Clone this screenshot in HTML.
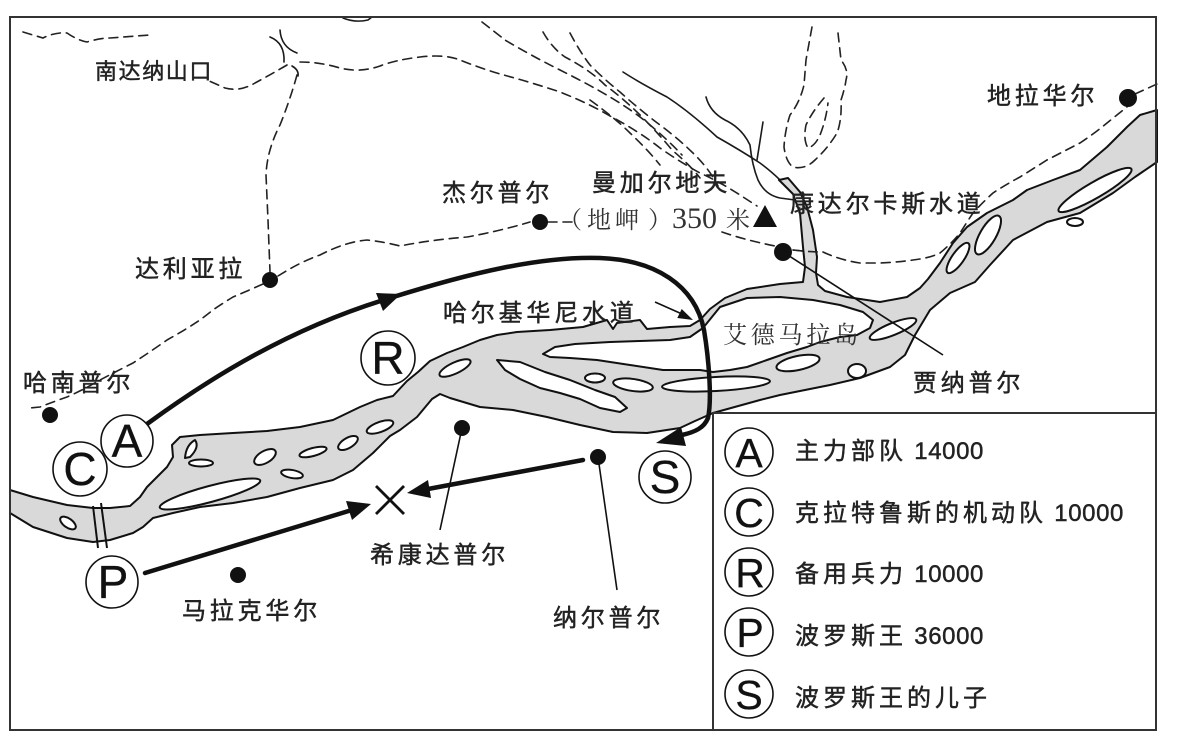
<!DOCTYPE html>
<html>
<head>
<meta charset="utf-8">
<style>
html,body{margin:0;padding:0;background:#fff;}
svg{display:block;}
.s{font-family:"Liberation Sans","Noto Sans CJK SC",sans-serif;fill:#222;stroke:#222;stroke-width:0.45;}
.sf{font-family:"Liberation Serif","Noto Serif CJK SC",serif;fill:#333;}
</style>
</head>
<body>
<svg width="1178" height="737" viewBox="0 0 1178 737" xmlns="http://www.w3.org/2000/svg">
<rect width="1178" height="737" fill="#fff"/>

<!-- dashed roads / ridges -->
<g fill="none" stroke="#222" stroke-width="1.6" stroke-dasharray="9 6" stroke-linecap="round">
  <path d="M23,32 Q33,35 43,38 Q55,32 67,33 Q77,40 87,42 Q100,38 110,38 L150,35"/>
  <path d="M287,65 Q270,75 255,83 Q240,92 225,88 L207,80"/>
  <path d="M300,62 Q320,62 340,68 Q360,73 380,66 Q395,60 420,57 Q445,54 460,60 Q480,68 500,74 Q530,82 560,92 Q590,104 610,116 Q640,132 660,148 Q680,162 700,173 Q720,182 740,195 L757,206"/>
  <path d="M482,22 Q495,32 505,40 Q530,55 560,70 Q590,85 610,97 Q635,112 650,125 Q668,140 682,155"/>
  <path d="M543,32 Q552,48 565,57 Q590,70 605,85 Q625,100 640,115 Q660,135 672,150 Q690,165 700,178"/>
  <path d="M570,33 Q580,52 590,65 Q605,80 620,92 Q640,110 660,125 Q680,140 695,155 Q710,170 718,186"/>
  <path d="M590,100 Q615,118 630,133 Q648,150 660,165"/>
  <path d="M297,75 Q290,100 280,125 Q267,150 266,175 L268,220 L270,272"/>
  <path d="M278,276 Q300,262 320,255 Q345,242 367,240 Q385,242 400,246 Q430,240 467,237 Q500,231 530,222"/>
  <path d="M548,222 L572,222"/>
  <path d="M722,232 Q745,240 775,246"/>
  <path d="M793,250 Q810,252 823,252 Q840,260 860,263 L880,263 Q900,262 913,260 Q930,258 940,253 Q952,243 960,233 Q967,222 973,213 Q983,202 993,193 Q1005,185 1020,177 L1047,160 L1080,143 Q1095,133 1107,123 L1127,107"/>
  <path d="M1135,94 L1157,84"/>
  <path d="M263,284 Q245,292 233,297 Q220,305 213,310 L200,320 Q185,330 167,340 Q150,352 133,363 Q115,372 100,380 Q85,389 67,397 Q50,403 40,407 L30,408"/>
  <path d="M812,27 L806,60 L804,85 Q800,102 790,115 Q785,130 784,147 Q786,162 793,167 Q805,170 815,160 Q828,148 837,133 Q842,120 841,100 Q845,88 846,80 Q849,70 841,60 L838,33"/>
  <path d="M824,98 Q812,112 806,125 Q803,140 808,148 Q815,146 820,135 Q826,120 828,103"/>
</g>

<!-- thin solid tributaries -->
<g fill="none" stroke="#1a1a1a" stroke-width="1.6" stroke-linecap="round">
  <path d="M623,72 Q640,83 667,97 Q690,112 717,137 Q740,150 760,163 Q772,172 780,180"/>
  <path d="M706,97 Q710,112 725,120 Q742,128 750,145 Q752,165 758,180 Q765,195 780,198 L795,200"/>
  <path d="M763,122 L757,160"/>
  <path d="M343,18 Q355,23 368,20 L372,17"/>
  <path d="M270,37 Q285,43 284,62"/>
  <path d="M280,30 Q281,47 297,53"/>
  <path d="M292,66 Q299,70 298,76"/>
</g>

<!-- river -->
<path fill="#d9d9d9" stroke="#111" stroke-width="2" stroke-linejoin="round" d="M10,490 L33,497 L67,505 L93,508 L110,508 L130,506 L140,497 L147,487 L157,477 L167,467 L173,457 L172,445 L180,437 L200,435 L233,433 L267,431 L300,427 L333,420 L360,407 L377,400 L393,396 L407,381 L418,372 L430,361 L447,353 L463,347 L480,340 L497,335 L517,332 L550,330 L583,327 L607,320 L613,329 L617,323 L640,320 L647,329 L670,327 L690,326 L700,320 L710,309 L725,298 L747,289 L780,284 L803,282 L805,267 L803,247 L800,213 L793,194 L779,180 L788,178 L800,192 L807,207 L813,230 L817,257 L816,273 L818,285 L825,291 L847,297 L880,302 L907,297 L920,288 L928,279 L940,263 L953,243 L967,227 L987,213 L1013,200 L1027,190 L1053,180 L1080,170 L1107,147 L1127,127 L1140,115 L1157,110 L1157,162 L1135,177 L1113,193 L1080,213 L1047,222 L1013,240 L990,265 L975,282 L950,293 L930,310 L915,335 L905,355 L890,367 L860,378 L830,385 L780,395 L760,400 L713,413 L695,421 L680,428 L647,433 L613,432 L580,425 L547,417 L513,410 L480,407 L450,398 L440,394 L432,399 L417,417 L400,430 L390,436 L373,453 L353,470 L333,480 L300,488 L267,497 L233,503 L200,507 L173,513 L153,518 L143,527 L133,533 L110,540 L93,542 L67,538 L33,527 L10,513 Z"/>

<!-- islands -->
<g fill="#fff" stroke="#111" stroke-width="2" stroke-linejoin="round">
  <path d="M543,354 L555,347 L575,344 L610,342 L640,341 L670,340 L690,337 L703,328 L720,307 L747,298 L780,297 L813,300 L840,305 L863,312 L873,320 L870,328 L857,335 L840,337 L820,342 L807,347 L787,353 L767,360 L747,367 L730,370 L713,372 L700,370 L680,370 L663,370 L630,365 L597,360 L570,358 L550,357 Z"/>
  <ellipse cx="68" cy="523" rx="9" ry="4.5" transform="rotate(35 68 523)"/>
  <path d="M185,458 Q186,445 195,440 Q200,447 190,457 Z"/>
  <ellipse cx="201" cy="463" rx="12" ry="3.5"/>
  <ellipse cx="210" cy="494" rx="52" ry="8" transform="rotate(-15 210 494)"/>
  <ellipse cx="265" cy="457" rx="12" ry="6" transform="rotate(-30 265 457)"/>
  <ellipse cx="292" cy="474" rx="11" ry="4" transform="rotate(10 292 474)"/>
  <ellipse cx="313" cy="452" rx="14" ry="4" transform="rotate(-15 313 452)"/>
  <ellipse cx="348" cy="443" rx="11" ry="5" transform="rotate(-30 348 443)"/>
  <ellipse cx="380" cy="427" rx="14" ry="5" transform="rotate(-20 380 427)"/>
  <ellipse cx="455" cy="368" rx="17" ry="5.5" transform="rotate(-25 455 368)"/>
  <path d="M497,360 L520,362 L545,372 L570,380 L595,390 L615,397 L627,408 L620,412 L600,408 L580,399 L560,393 L540,388 L520,379 L505,370 Z"/>
  <ellipse cx="595" cy="378" rx="10" ry="4.5"/>
  <ellipse cx="633" cy="385" rx="20" ry="6" transform="rotate(8 633 385)"/>
  <ellipse cx="716" cy="384" rx="54" ry="7" transform="rotate(-3 716 384)"/>
  <ellipse cx="798" cy="363" rx="22" ry="7" transform="rotate(-12 798 363)"/>
  <ellipse cx="857" cy="371" rx="9" ry="7"/>
  <ellipse cx="893" cy="329" rx="25" ry="6" transform="rotate(-22 893 329)"/>
  <ellipse cx="958" cy="258" rx="18" ry="6" transform="rotate(-55 958 258)"/>
  <ellipse cx="988" cy="235" rx="22" ry="8" transform="rotate(-60 988 235)"/>
  <ellipse cx="1095" cy="190" rx="42" ry="8" transform="rotate(-30 1095 190)"/>
  <ellipse cx="1075" cy="222" rx="8" ry="4"/>
</g>

<!-- ford lines -->
<g stroke="#111" stroke-width="2">
  <line x1="93" y1="506" x2="98" y2="548"/>
  <line x1="101" y1="503" x2="107" y2="548"/>
</g>

<!-- dashed over channel near Jainpur -->
<g fill="none" stroke="#222" stroke-width="1.6" stroke-dasharray="9 6">
  <path d="M793,250 Q810,252 823,252"/>
</g>

<!-- thin leader lines -->
<g stroke="#111" stroke-width="1.6" fill="none">
  <line x1="462" y1="428" x2="440" y2="530"/>
  <line x1="598" y1="457" x2="617" y2="590"/>
  <line x1="783" y1="252" x2="943" y2="355"/>
  <line x1="655" y1="302" x2="682" y2="314"/>
</g>
<polygon points="693,320 681.7,309 677.3,318" fill="#111"/>

<!-- thick arrows -->
<g fill="none" stroke="#111" stroke-width="4.5" stroke-linecap="round">
  <path d="M147,424 C210,378 290,328 390,298 C470,273 540,256 600,258 C655,260 695,285 704,330 C709,360 712,400 708,418 C704,428 695,432 682,435"/>
  <line x1="145" y1="573" x2="352" y2="510"/>
  <line x1="583" y1="460" x2="428" y2="489"/>
</g>
<g fill="#111">
  <polygon points="401,294 376,293 383,311"/>
  <polygon points="656,443 681,427 686,446"/>
  <polygon points="371,504 346,501 352,520"/>
  <polygon points="407,493 428,480 431,498"/>
  <polygon points="753,227 765,205 777,227"/>
</g>

<!-- X mark -->
<g stroke="#111" stroke-width="2.8">
  <line x1="376" y1="486" x2="404" y2="514"/>
  <line x1="404" y1="486" x2="376" y2="514"/>
</g>

<!-- dots -->
<g fill="#111">
  <circle cx="270" cy="280" r="8"/>
  <circle cx="540" cy="222" r="8"/>
  <circle cx="783" cy="252" r="9"/>
  <circle cx="1128" cy="98" r="9"/>
  <circle cx="50" cy="415" r="8"/>
  <circle cx="462" cy="428" r="8"/>
  <circle cx="598" cy="457" r="8"/>
  <circle cx="238" cy="575" r="8"/>
</g>

<!-- map circles -->
<g fill="#fff" stroke="#111" stroke-width="1.6">
  <circle cx="388" cy="358" r="27"/>
  <circle cx="127" cy="441" r="26"/>
  <circle cx="80" cy="469" r="27"/>
  <circle cx="112" cy="582" r="26"/>
  <circle cx="665" cy="477" r="26"/>
</g>
<g class="s" font-size="46" text-anchor="middle" style="fill:#111;stroke:#111;stroke-width:0.3">
  <text x="388" y="374">R</text>
  <text x="127" y="457">A</text>
  <text x="80" y="485">C</text>
  <text x="113" y="598">P</text>
  <text x="665" y="493">S</text>
</g>

<!-- labels -->
<g class="s" font-size="24" letter-spacing="3.8">
  <text x="95" y="79" font-size="22" letter-spacing="1.6">南达纳山口</text>
  <text x="135" y="277">达利亚拉</text>
  <text x="442" y="201">杰尔普尔</text>
  <text x="592" y="191">曼加尔地夫</text>
  <text x="790" y="212">康达尔卡斯水道</text>
  <text x="987" y="104">地拉华尔</text>
  <text x="913" y="391">贾纳普尔</text>
  <text x="443" y="321">哈尔基华尼水道</text>
  <text x="23" y="391">哈南普尔</text>
  <text x="370" y="563">希康达普尔</text>
  <text x="553" y="626">纳尔普尔</text>
  <text x="182" y="619">马拉克华尔</text>
</g>
<text class="sf" y="228" font-size="24"><tspan x="558">（</tspan><tspan x="587" letter-spacing="4">地岬</tspan><tspan x="648">）</tspan><tspan x="672" font-size="30">350</tspan><tspan x="726">米</tspan></text>
<text class="sf" x="723" y="343" font-size="24" letter-spacing="3.8">艾德马拉岛</text>

<!-- frame & legend -->
<rect x="10" y="17" width="1146" height="713" fill="none" stroke="#333" stroke-width="2"/>
<rect x="713" y="413" width="443" height="317" fill="#fff" stroke="#333" stroke-width="2"/>
<g fill="#fff" stroke="#111" stroke-width="1.6">
  <circle cx="749" cy="452" r="24"/>
  <circle cx="749" cy="512" r="24"/>
  <circle cx="749" cy="572" r="24"/>
  <circle cx="749" cy="632" r="24"/>
  <circle cx="749" cy="694" r="24"/>
</g>
<g class="s" font-size="41" text-anchor="middle" style="fill:#111;stroke:#111;stroke-width:0.3">
  <text x="749" y="467">A</text>
  <text x="749" y="527">C</text>
  <text x="750" y="587">R</text>
  <text x="750" y="647">P</text>
  <text x="749" y="709">S</text>
</g>
<g class="s" font-size="24">
  <text x="795" y="459"><tspan letter-spacing="4">主力部队</tspan><tspan letter-spacing="0.6"> 14000</tspan></text>
  <text x="795" y="521"><tspan letter-spacing="4">克拉特鲁斯的机动队</tspan><tspan letter-spacing="0.6"> 10000</tspan></text>
  <text x="795" y="582"><tspan letter-spacing="4">备用兵力</tspan><tspan letter-spacing="0.6"> 10000</tspan></text>
  <text x="795" y="644"><tspan letter-spacing="4">波罗斯王</tspan><tspan letter-spacing="0.6"> 36000</tspan></text>
  <text x="795" y="706" letter-spacing="4">波罗斯王的儿子</text>
</g>
</svg>
</body>
</html>
